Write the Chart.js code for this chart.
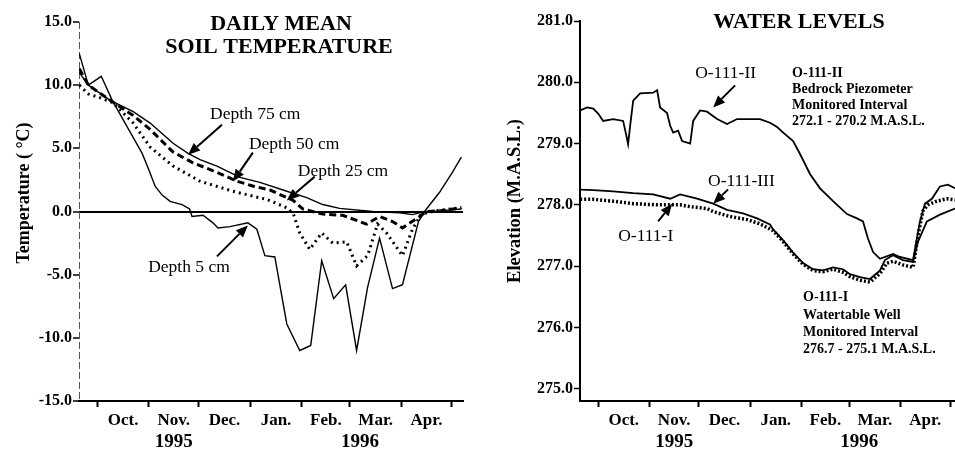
<!DOCTYPE html>
<html>
<head>
<meta charset="utf-8">
<script src="https://cdn.jsdelivr.net/npm/chart.js@4.4.1/dist/chart.umd.min.js"></script>
<style>
  html, body { margin: 0; padding: 0; background: #fff; }
  #wrap { position: relative; width: 955px; height: 449px; }
  #tempChart { position: absolute; left: 0; top: 0; }
  #levelChart { position: absolute; left: 480px; top: 0; }
</style>
</head>
<body>
<div id="wrap">
  <canvas id="tempChart" width="480" height="449"></canvas>
  <canvas id="levelChart" width="475" height="449"></canvas>
</div>
<script>
// x values are days counted from 1 Oct 1995
const monthStarts = [0, 31, 61, 92, 123, 152, 183, 213];
const monthMids = [15.5, 46, 76.5, 107.5, 137.5, 167.5, 198];
const monthLabels = ["Oct.", "Nov.", "Dec.", "Jan.", "Feb.", "Mar.", "Apr."];
const yearPos = [46, 158];
const yearLabels = ["1995", "1996"];

// soil temperature (deg C)
const days5 = [-10.8, -5.4, 2.4, 9, 18, 27, 31, 34.8, 39, 43.8, 51, 55.5, 57, 63.6, 69.6, 72.6, 79.8, 90.6, 96, 100.8, 106.8, 114, 121.8, 128.4, 135, 142.2, 149.4, 156, 162.6, 169.8, 177.6, 183.6, 193.2, 198, 205.8, 213.6, 219];
const temp5 = [12.5, 10.0, 10.7, 8.8, 6.7, 4.6, 3.3, 2.0, 1.3, 0.8, 0.55, 0.2, -0.4, -0.3, -0.9, -1.3, -1.2, -0.9, -1.4, -3.5, -3.6, -8.9, -11.0, -10.6, -3.9, -6.9, -5.8, -11.0, -6.0, -2.1, -6.1, -5.8, -0.8, 0.2, 1.5, 3.1, 4.3];

const days25 = [-10.8, -5.4, 1.8, 9.6, 21.6, 31.8, 45.6, 61.8, 81.6, 102, 114, 118, 121.8, 127.8, 135, 141.6, 150, 156, 162.6, 168.6, 174, 183.6, 189.6, 195, 205.8, 219];
const temp25 = [10.0, 9.3, 9.0, 8.6, 7.0, 5.1, 3.6, 2.4, 1.6, 0.95, 0.3, -0.2, -1.7, -3.0, -1.7, -2.5, -2.4, -4.3, -3.5, -1.0, -1.7, -3.5, -1.4, -0.2, 0.1, 0.3];

const days50 = [-10.8, -5.4, 7.8, 21.6, 31.8, 45.6, 57.6, 72, 84, 94, 104, 114, 117.6, 123.6, 135.6, 147.6, 162, 169.8, 177.6, 183.6, 193.8, 198, 205.8, 219];
const temp50 = [11.3, 10.0, 8.8, 7.6, 6.5, 4.7, 3.85, 3.1, 2.4, 2.0, 1.7, 1.1, 0.9, 0.2, -0.2, -0.3, -1.0, -0.4, -0.8, -1.3, -0.4, 0.0, 0.05, 0.3];

const days75 = [-10.8, -5.4, 7.8, 21.6, 31.8, 45.6, 54.6, 61.8, 72, 85.8, 97.8, 114, 126, 135.6, 145.8, 165.6, 181.8, 189.6, 196.8, 205.8, 219];
const temp75 = [11.0, 10.0, 8.8, 7.9, 7.0, 5.4, 4.6, 4.1, 3.6, 2.7, 2.3, 1.6, 1.1, 0.55, 0.25, 0.0, -0.1, -0.25, 0.0, 0.05, 0.2];

// water levels (m above sea level)
const daysII = [-10.9, -6.7, -3, 0, 3, 9.1, 15.1, 16.9, 18.1, 19.4, 21.2, 25.4, 33.3, 35.7, 37.5, 41.7, 43.6, 45.4, 48.4, 50.8, 55.7, 57.5, 61.7, 65.9, 72, 78, 84.1, 92, 98, 104, 108.3, 112, 118, 122.2, 128.3, 134.3, 142.2, 150.6, 156.7, 160.3, 163.3, 166.4, 170.6, 178.5, 182.7, 190.6, 194.8, 197.8, 202, 206.9, 211.7, 216];
const levelII = [279.54, 279.59, 279.57, 279.49, 279.37, 279.40, 279.37, 279.15, 278.99, 279.30, 279.70, 279.82, 279.83, 279.87, 279.59, 279.50, 279.29, 279.18, 279.21, 279.04, 279.00, 279.37, 279.54, 279.52, 279.40, 279.32, 279.40, 279.40, 279.40, 279.34, 279.27, 279.18, 279.04, 278.83, 278.50, 278.27, 278.06, 277.85, 277.78, 277.73, 277.45, 277.23, 277.12, 277.20, 277.15, 277.10, 277.73, 278.02, 278.10, 278.30, 278.33, 278.27];

const daysIII = [-10.9, -3, 9.1, 21.2, 33.3, 43.6, 49.6, 59.9, 69.6, 78, 87.7, 96.2, 104, 105.9, 112, 118, 124, 130, 136.1, 142.2, 148.2, 152.4, 158.5, 164.5, 170.6, 173.6, 178.5, 184.5, 190.6, 193.6, 199, 206.9, 216];
const levelIII = [278.25, 278.24, 278.22, 278.19, 278.17, 278.10, 278.17, 278.10, 278.02, 277.92, 277.86, 277.78, 277.68, 277.60, 277.42, 277.22, 277.05, 276.95, 276.93, 276.98, 276.95, 276.87, 276.82, 276.79, 276.93, 277.10, 277.18, 277.10, 277.07, 277.40, 277.73, 277.84, 277.94];

const daysI = [-10.9, -3, 9.1, 21.2, 35.7, 49.6, 55.7, 65.9, 69.6, 79.9, 90.1, 98, 105.9, 112, 118, 124, 130, 136.1, 142.2, 148.2, 152.4, 158.5, 164.5, 170.6, 174.8, 178.5, 184.5, 190.6, 193.6, 196.6, 199.6, 205, 211, 216];
const levelI = [278.09, 278.09, 278.06, 278.02, 278.00, 278.00, 277.97, 277.94, 277.89, 277.81, 277.76, 277.69, 277.58, 277.40, 277.20, 277.03, 276.93, 276.91, 276.95, 276.90, 276.83, 276.77, 276.74, 276.88, 277.05, 277.08, 277.02, 276.98, 277.50, 277.90, 278.00, 278.06, 278.10, 278.08];

const SERIF = "'Liberation Serif', 'DejaVu Serif', serif";

function pts(xs, ys) {
  return xs.map((x, i) => ({ x: x, y: ys[i] }));
}

// notes: texts and arrows placed in data units
const notesPlugin = {
  id: "notes",
  beforeDatasetsDraw(chart, args, opts) {
    if (!opts.dashedAxis) return;
    const ctx = chart.ctx, a = chart.chartArea;
    ctx.save();
    ctx.strokeStyle = "#555";
    ctx.lineWidth = 1;
    ctx.setLineDash([7, 3]);
    ctx.beginPath();
    ctx.moveTo(a.left + 0.5, a.top);
    ctx.lineTo(a.left + 0.5, a.bottom);
    ctx.stroke();
    ctx.restore();
  },
  afterDatasetsDraw(chart, args, opts) {
    const ctx = chart.ctx;
    const sx = chart.scales.x, sy = chart.scales.y;
    ctx.save();
    ctx.fillStyle = "#000";
    ctx.strokeStyle = "#000";
    (opts.titles || []).forEach(t => {
      ctx.font = t.font;
      ctx.textAlign = "center";
      ctx.textBaseline = "middle";
      ctx.fillText(t.text, t.px, t.py);
    });
    (opts.texts || []).forEach(t => {
      ctx.font = t.font;
      ctx.textAlign = "left";
      ctx.textBaseline = "middle";
      ctx.fillText(t.text, sx.getPixelForValue(t.x), sy.getPixelForValue(t.y));
    });
    (opts.arrows || []).forEach(a => {
      const x1 = sx.getPixelForValue(a.from[0]), y1 = sy.getPixelForValue(a.from[1]);
      const x2 = sx.getPixelForValue(a.to[0]), y2 = sy.getPixelForValue(a.to[1]);
      const ang = Math.atan2(y2 - y1, x2 - x1);
      const hl = 12, hw = 5;
      const bx = x2 - hl * Math.cos(ang), by = y2 - hl * Math.sin(ang);
      ctx.lineWidth = 2;
      ctx.beginPath();
      ctx.moveTo(x1, y1);
      ctx.lineTo(bx, by);
      ctx.stroke();
      ctx.beginPath();
      ctx.moveTo(x2, y2);
      ctx.lineTo(bx + hw * Math.sin(ang), by - hw * Math.cos(ang));
      ctx.lineTo(bx - hw * Math.sin(ang), by + hw * Math.cos(ang));
      ctx.closePath();
      ctx.fill();
    });
    (opts.yTitle ? [opts.yTitle] : []).forEach(t => {
      ctx.font = t.font;
      ctx.textAlign = "center";
      ctx.textBaseline = "middle";
      ctx.translate(t.px, t.py);
      ctx.rotate(-Math.PI / 2);
      ctx.fillText(t.text, 0, 0);
    });
    ctx.restore();
  }
};

function bottomAxes(xmax) {
  return {
    x: {
      type: "linear", min: -11, max: xmax, position: "bottom",
      afterBuildTicks: s => { s.ticks = monthStarts.map(v => ({ value: v })); },
      afterFit: s => { s.height = 8; },
      ticks: { display: false },
      grid: { drawOnChartArea: false, drawTicks: true, tickLength: 6, tickWidth: 2, tickColor: "#000" },
      border: { color: "#000", width: 2 }
    },
    xm: {
      type: "linear", min: -11, max: xmax, position: "bottom",
      afterBuildTicks: s => { s.ticks = monthMids.map(v => ({ value: v })); },
      afterFit: s => { s.height = 20; },
      ticks: {
        autoSkip: false, maxRotation: 0, padding: 1, color: "#000",
        font: { family: SERIF, size: 17, weight: "bold" },
        callback: (v, i) => monthLabels[i]
      },
      grid: { display: false, drawTicks: false },
      border: { display: false }
    },
    xy: {
      type: "linear", min: -11, max: xmax, position: "bottom",
      afterBuildTicks: s => { s.ticks = yearPos.map(v => ({ value: v })); },
      afterFit: s => { s.height = 20; },
      ticks: {
        autoSkip: false, maxRotation: 0, padding: 2, color: "#000",
        font: { family: SERIF, size: 19, weight: "bold" },
        callback: (v, i) => yearLabels[i]
      },
      grid: { display: false, drawTicks: false },
      border: { display: false }
    }
  };
}

const lineBase = { pointRadius: 0, tension: 0, fill: false, borderColor: "#000", borderCapStyle: "butt" };
const noteFont = "17.5px " + SERIF;
const blockFont = "bold 14px " + SERIF;

new Chart(document.getElementById("tempChart"), {
  type: "line",
  data: {
    datasets: [
      Object.assign({ label: "Depth 5 cm", data: pts(days5, temp5), borderWidth: 1.4 }, lineBase),
      Object.assign({ label: "Depth 25 cm", data: pts(days25, temp25), borderWidth: 3, borderDash: [2, 4] }, lineBase),
      Object.assign({ label: "Depth 50 cm", data: pts(days50, temp50), borderWidth: 3, borderDash: [7, 4] }, lineBase),
      Object.assign({ label: "Depth 75 cm", data: pts(days75, temp75), borderWidth: 1.4 }, lineBase)
    ]
  },
  options: {
    responsive: false, animation: false, devicePixelRatio: 1,
    layout: { padding: { top: 22, right: 17, left: 0, bottom: 0 } },
    plugins: {
      legend: { display: false }, tooltip: { enabled: false },
      notes: {
        dashedAxis: true,
        titles: [
          { text: "DAILY MEAN", px: 281, py: 24, font: "bold 22px " + SERIF },
          { text: "SOIL TEMPERATURE", px: 279, py: 47, font: "bold 22px " + SERIF }
        ],
        texts: [
          { text: "Depth 75 cm", x: 67.8, y: 7.66, font: noteFont },
          { text: "Depth 50 cm", x: 91.2, y: 5.29, font: noteFont },
          { text: "Depth 25 cm", x: 120.6, y: 3.16, font: noteFont },
          { text: "Depth 5 cm", x: 30.6, y: -4.42, font: noteFont }
        ],
        arrows: [
          { from: [75, 6.87], to: [54.6, 4.5] },
          { from: [93.6, 4.66], to: [81.6, 2.37] },
          { from: [130.8, 2.76], to: [114, 0.87] },
          { from: [72, -3.55], to: [90.6, -1.1] }
        ],
        yTitle: { text: "Temperature ( \u00B0C)", px: 24, py: 193, font: "bold 18px " + SERIF }
      }
    },
    scales: Object.assign(bottomAxes(220), {
      y: {
        type: "linear", min: -15, max: 15,
        afterFit: s => { s.width = 79; },
        ticks: {
          stepSize: 5, padding: 1, color: "#000",
          font: { family: SERIF, size: 16, weight: "bold" },
          callback: v => v.toFixed(1)
        },
        grid: {
          drawTicks: true, tickLength: 6, tickColor: "#000", tickWidth: 1.5,
          color: c => (c.tick && c.tick.value === 0 ? "#000" : "rgba(0,0,0,0)"),
          lineWidth: 2
        },
        border: { display: false }
      }
    })
  },
  plugins: [notesPlugin]
});

new Chart(document.getElementById("levelChart"), {
  type: "line",
  data: {
    datasets: [
      Object.assign({ label: "O-111-II", data: pts(daysII, levelII), borderWidth: 1.8 }, lineBase),
      Object.assign({ label: "O-111-III", data: pts(daysIII, levelIII), borderWidth: 1.8 }, lineBase),
      Object.assign({ label: "O-111-I", data: pts(daysI, levelI), borderWidth: 3.5, borderDash: [2, 2] }, lineBase)
    ]
  },
  options: {
    responsive: false, animation: false, devicePixelRatio: 1,
    layout: { padding: { top: 21, right: 0, left: 0, bottom: 0 } },
    plugins: {
      legend: { display: false }, tooltip: { enabled: false },
      notes: {
        titles: [
          { text: "WATER LEVELS", px: 319, py: 22, font: "bold 22px " + SERIF }
        ],
        texts: [
          { text: "O-111-II", x: 58.7, y: 280.14, font: noteFont },
          { text: "O-111-II", x: 117.4, y: 280.14, font: blockFont },
          { text: "Bedrock Piezometer", x: 117.4, y: 279.89, font: blockFont },
          { text: "Monitored Interval", x: 117.4, y: 279.63, font: blockFont },
          { text: "272.1 - 270.2 M.A.S.L.", x: 117.4, y: 279.37, font: blockFont },
          { text: "O-111-III", x: 66.5, y: 278.38, font: noteFont },
          { text: "O-111-I", x: 12.1, y: 277.48, font: noteFont },
          { text: "O-111-I", x: 124, y: 276.49, font: blockFont },
          { text: "Watertable Well", x: 124, y: 276.2, font: blockFont },
          { text: "Monitored Interval", x: 124, y: 275.92, font: blockFont },
          { text: "276.7 - 275.1 M.A.S.L.", x: 124, y: 275.64, font: blockFont }
        ],
        arrows: [
          { from: [82.9, 279.95], to: [69.6, 279.59] },
          { from: [78.6, 278.25], to: [69.6, 278.02] },
          { from: [36.3, 277.73], to: [44.8, 278.02] }
        ],
        yTitle: { text: "Elevation (M.A.S.L.)", px: 35, py: 201, font: "bold 18.5px " + SERIF }
      }
    },
    scales: Object.assign(bottomAxes(216), {
      y: {
        type: "linear", min: 274.8, max: 281,
        afterFit: s => { s.width = 100; },
        afterBuildTicks: s => { s.ticks = [275, 276, 277, 278, 279, 280, 281].map(v => ({ value: v })); },
        ticks: {
          padding: 1, color: "#000",
          font: { family: SERIF, size: 16, weight: "bold" },
          callback: v => v.toFixed(1)
        },
        grid: { drawOnChartArea: false, drawTicks: true, tickLength: 6, tickColor: "#000", tickWidth: 1.5 },
        border: { color: "#000", width: 2 }
      }
    })
  },
  plugins: [notesPlugin]
});
</script>
</body>
</html>
